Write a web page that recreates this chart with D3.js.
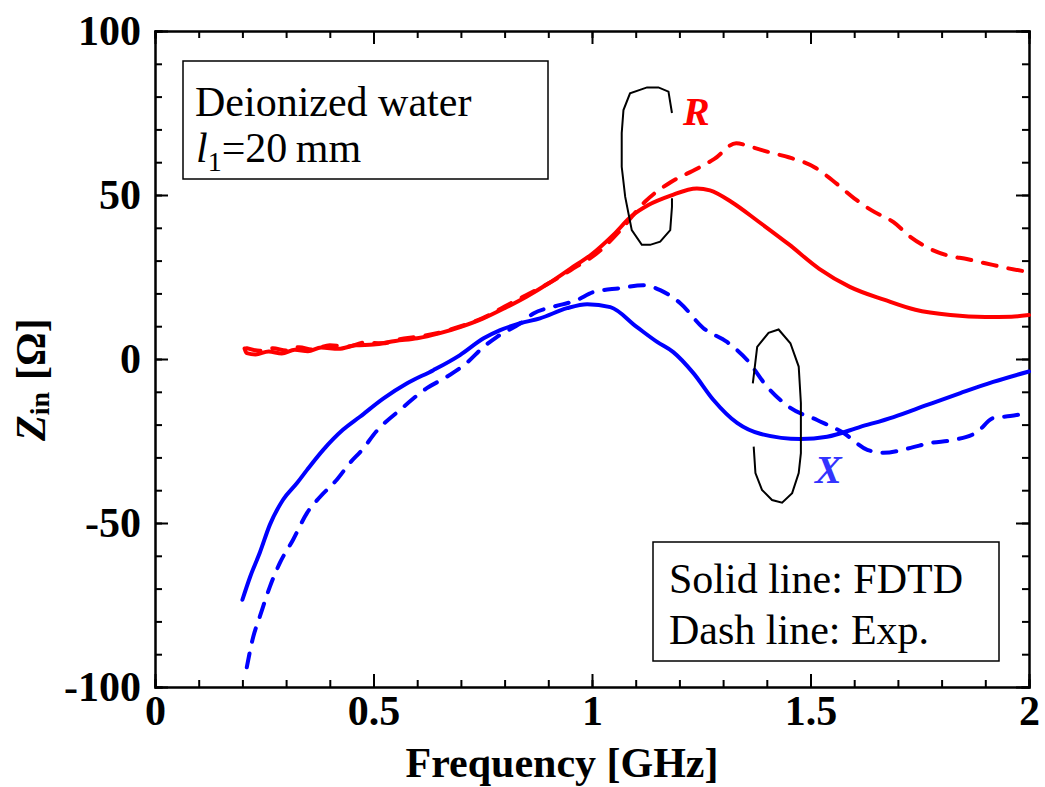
<!DOCTYPE html>
<html>
<head>
<meta charset="utf-8">
<script src="https://cdn.jsdelivr.net/npm/d3@7"></script>
<style>
    body { margin: 0; background: #fff; }
    svg text { font-family: "Liberation Serif", "Times New Roman", serif; }
    .axis path, .axis line { stroke: #000; stroke-width: 2; }
    .axis text { font-size: 42px; font-weight: bold; fill: #000; }
</style>
</head>
<body>
<div id="chart"></div>
<script>
// frequency [GHz] and Zin [ohm]
var rFdtdF = [0.205,0.21,0.23,0.26,0.29,0.32,0.35,0.38,0.42,0.46,0.50,0.55,0.60,0.65,0.70,0.75,0.80,0.85,0.90,0.95,1.0,1.05,1.09,1.13,1.18,1.24,1.27,1.32,1.38,1.45,1.52,1.59,1.67,1.74,1.82,1.90,1.96,2.0];
var rFdtdZ = [3.2,1.8,1.4,2.3,1.7,2.8,2.4,3.5,3.1,4.2,4.4,5.5,6.3,7.8,9.8,12.3,15.5,19,23,27.5,32,38,43.5,47,49.8,52,51.4,47.8,42,35,27.5,22,18,15,13.4,12.8,12.9,13.4];

var rExpF = [0.21,0.24,0.27,0.30,0.33,0.36,0.40,0.44,0.48,0.52,0.56,0.60,0.65,0.70,0.75,0.80,0.85,0.90,0.95,1.02,1.07,1.12,1.18,1.24,1.28,1.33,1.36,1.415,1.45,1.51,1.55,1.60,1.64,1.69,1.73,1.77,1.81,1.86,1.90,1.95,2.0];
var rExpZ = [3.3,2.5,3.3,2.6,3.6,2.9,4.2,3.8,5.0,4.8,6.0,6.8,8.0,10.0,12.5,16,19.5,23,27,33.2,40,47.8,53.9,58,61,65.8,64.8,62.7,61.5,58.4,54.5,49,45.3,41.7,37.1,33.8,31.7,30.4,29.2,27.7,26.5];

var xFdtdF = [0.20,0.218,0.24,0.263,0.293,0.325,0.348,0.385,0.43,0.469,0.523,0.577,0.637,0.698,0.752,0.79,0.836,0.881,0.943,0.989,1.042,1.103,1.149,1.186,1.232,1.278,1.332,1.385,1.477,1.538,1.614,1.69,1.767,1.843,1.918,2.0];
var xFdtdZ = [-73.4,-66.3,-59,-50.5,-42.9,-37.8,-33.8,-27.7,-21.6,-17.6,-12,-7.4,-3.4,1.2,6.3,8.8,10.9,12.4,15.5,16.7,15.8,9.7,5.2,2.1,-4.3,-12.5,-19.5,-22.8,-24.4,-23.7,-20.7,-17.7,-14,-10.4,-7,-3.8];

var xExpF = [0.21,0.225,0.24,0.263,0.286,0.316,0.348,0.378,0.416,0.446,0.474,0.507,0.561,0.622,0.668,0.713,0.752,0.782,0.836,0.866,0.911,0.966,1.003,1.065,1.117,1.156,1.202,1.255,1.309,1.355,1.401,1.454,1.515,1.575,1.63,1.667,1.729,1.774,1.827,1.882,1.918,1.957,2.0];
var xExpZ = [-94,-84.6,-78.5,-69.4,-62.1,-55.1,-46.9,-42,-36.8,-31.7,-27.7,-22,-15.5,-8.9,-5.4,-1.2,3.7,6.7,10.9,13.9,15.9,18,20.4,21.6,22.5,21,17,9.4,5.2,-0.3,-8.5,-14.9,-18.6,-22.5,-27.7,-28.6,-27.1,-25.6,-24.7,-22.2,-18,-17.4,-16.4];

// the two hand drawn loops round the curves
var loopRF = [1.183,1.183,1.179,1.156,1.133,1.114,1.091,1.076,1.068,1.068,1.072,1.087,1.126,1.152,1.175,1.183];
var loopRZ = [49,46.4,39.3,35.8,34.8,34.8,39.3,49.4,58.6,68.9,75.9,81,82.8,82.8,81.5,75];
var loopXF = [1.368,1.378,1.404,1.427,1.454,1.473,1.478,1.478,1.473,1.458,1.435,1.412,1.389,1.374,1.370];
var loopXZ = [-7.4,3.7,8.0,9.0,4.8,-2.3,-13.4,-28.7,-34.8,-40.9,-43.8,-43.0,-39.9,-34.8,-26.7];

var xMajor = [0, 0.5, 1, 1.5, 2];
var yMajor = [-100, -50, 0, 50, 100];

function zip(a, b) { return a.map(function(v, i) { return [v, b[i]]; }); }

var vis = {};
vis.width = 1045; vis.height = 787;
vis.left = 155; vis.right = 1029; vis.top = 31; vis.bottom = 687;

vis.svg = d3.select("#chart").append("svg")
    .attr("width", vis.width)
    .attr("height", vis.height);

vis.x = d3.scaleLinear().domain([0, 2]).range([vis.left, vis.right]);
vis.y = d3.scaleLinear().domain([-100, 100]).range([vis.bottom, vis.top]);

var xMinor = d3.range(0, 21).map(function(i) { return i / 10; });
var yMinor = d3.range(-10, 11).map(function(i) { return i * 10; });

// axes, ticks pointing inwards on all four sides
function addAxis(axis, tx, ty, cls) {
    vis.svg.append("g")
        .attr("class", "axis " + (cls || ""))
        .attr("transform", "translate(" + tx + "," + ty + ")")
        .call(axis);
}
addAxis(d3.axisBottom(vis.x).tickValues(xMinor).tickSize(-7).tickFormat(""), 0, vis.bottom);
addAxis(d3.axisTop(vis.x).tickValues(xMinor).tickSize(-7).tickFormat(""), 0, vis.top);
addAxis(d3.axisLeft(vis.y).tickValues(yMinor).tickSize(-7).tickFormat(""), vis.left, 0);
addAxis(d3.axisRight(vis.y).tickValues(yMinor).tickSize(-7).tickFormat(""), vis.right, 0);

addAxis(d3.axisBottom(vis.x).tickValues(xMajor).tickSize(-13).tickPadding(8)
    .tickSizeOuter(0).tickFormat(function(d) { return d; }), 0, vis.bottom);
addAxis(d3.axisTop(vis.x).tickValues(xMajor).tickSize(-13).tickSizeOuter(0).tickFormat(""), 0, vis.top);
addAxis(d3.axisLeft(vis.y).tickValues(yMajor).tickSize(-13).tickPadding(14)
    .tickSizeOuter(0).tickFormat(function(d) { return d; }), vis.left, 0);
addAxis(d3.axisRight(vis.y).tickValues(yMajor).tickSize(-13).tickSizeOuter(0).tickFormat(""), vis.right, 0);

vis.svg.selectAll(".axis path").attr("stroke-linecap", "square");

vis.line = d3.line()
    .curve(d3.curveMonotoneX)
    .x(function(d) { return vis.x(d[0]); })
    .y(function(d) { return vis.y(d[1]); });

var series = [
    {f: rExpF, z: rExpZ, color: "#ff0000", dash: "14,12"},
    {f: xExpF, z: xExpZ, color: "#0000ff", dash: "14,12"},
    {f: rFdtdF, z: rFdtdZ, color: "#ff0000", dash: null},
    {f: xFdtdF, z: xFdtdZ, color: "#0000ff", dash: null}
];
series.forEach(function(s) {
    vis.svg.append("path")
        .datum(zip(s.f, s.z))
        .attr("fill", "none")
        .attr("stroke", s.color)
        .attr("stroke-width", 4)
        .attr("stroke-linecap", "round")
        .attr("stroke-linejoin", "round")
        .attr("stroke-dasharray", s.dash)
        .attr("d", vis.line);
});

// loops
vis.loop = d3.line()
    .curve(d3.curveLinear)
    .x(function(d) { return vis.x(d[0]); })
    .y(function(d) { return vis.y(d[1]); });
[[loopRF, loopRZ], [loopXF, loopXZ]].forEach(function(l) {
    vis.svg.append("path")
        .datum(zip(l[0], l[1]))
        .attr("fill", "none")
        .attr("stroke", "#000")
        .attr("stroke-width", 2)
        .attr("d", vis.loop);
});

vis.svg.append("text")
    .attr("x", 683).attr("y", 125)
    .attr("font-size", 40).attr("font-weight", "bold").attr("font-style", "italic")
    .attr("fill", "#ff0000")
    .text("R");
vis.svg.append("text")
    .attr("x", 815).attr("y", 483)
    .attr("font-size", 40).attr("font-weight", "bold").attr("font-style", "italic")
    .attr("fill", "#3333ff")
    .text("X");

// text boxes
vis.svg.append("rect")
    .attr("x", 183).attr("y", 61).attr("width", 365).attr("height", 118)
    .attr("fill", "#fff").attr("stroke", "#000").attr("stroke-width", 1.5);
vis.svg.append("text")
    .attr("x", 195).attr("y", 116).attr("font-size", 42)
    .text("Deionized water");
var t2 = vis.svg.append("text")
    .attr("x", 196).attr("y", 162).attr("font-size", 42);
t2.append("tspan").attr("font-style", "italic").text("l");
t2.append("tspan").attr("font-size", 28).attr("dy", 9).text("1");
t2.append("tspan").attr("dy", -9).text("=20\u2009mm");

vis.svg.append("rect")
    .attr("x", 653).attr("y", 542).attr("width", 346).attr("height", 119)
    .attr("fill", "#fff").attr("stroke", "#000").attr("stroke-width", 1.5);
vis.svg.append("text")
    .attr("x", 669).attr("y", 593).attr("font-size", 42)
    .text("Solid line: FDTD");
vis.svg.append("text")
    .attr("x", 669).attr("y", 644).attr("font-size", 42)
    .text("Dash line: Exp.");

// axis titles
vis.svg.append("text")
    .attr("x", 562).attr("y", 777)
    .attr("text-anchor", "middle")
    .attr("font-size", 42).attr("font-weight", "bold")
    .text("Frequency [GHz]");

var yl = vis.svg.append("text")
    .attr("transform", "translate(45,441) rotate(-90)")
    .attr("font-size", 42).attr("font-weight", "bold");
yl.append("tspan").attr("font-style", "italic").text("Z");
yl.append("tspan").attr("font-size", 28).attr("dy", 4).text("in");
yl.append("tspan").attr("dy", -4).attr("dx", 12).text("[\u03A9]");
</script>
</body>
</html>
